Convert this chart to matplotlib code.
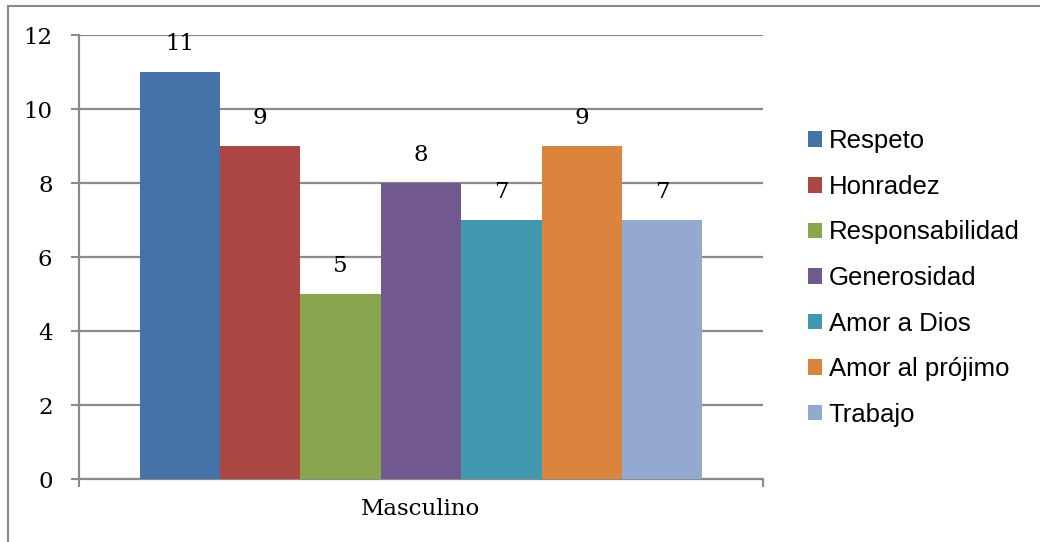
import numpy as np
import matplotlib
matplotlib.use("Agg")
import matplotlib.pyplot as plt
from matplotlib.lines import Line2D
from matplotlib.patches import Patch

# data ------------------------------------------------------------
categories = ["Respeto", "Honradez", "Responsabilidad", "Generosidad",
              "Amor a Dios", "Amor al prójimo", "Trabajo"]
values = [11, 9, 5, 8, 7, 9, 7]
colors = ["#4572A7", "#AA4643", "#89A54E", "#71588F",
          "#4198AF", "#DB843D", "#93A9CF"]
group_label = "Masculino"
y_ticks = [0, 2, 4, 6, 8, 10, 12]
# -----------------------------------------------------------------

W, H = 1040, 542
fig = plt.figure(figsize=(W / 100, H / 100), dpi=100)
ax = fig.add_axes([79 / W, 1 - 479 / H, (763 - 79) / W, (479 - 35) / H])

grey = "#8a8a8a"
serif = "DejaVu Serif"
fs = 16.5

x = np.arange(len(values))
ax.bar(x, values, width=1.0, color=colors, zorder=3)
for xi, v in zip(x, values):
    ax.text(xi, v + 0.45, str(v), ha="center", va="bottom",
            fontsize=fs, family=serif, zorder=4)

pad = 0.755
ax.set_xlim(-0.5 - pad, len(values) - 0.5 + pad)
ax.set_ylim(0, 12)

ax.set_yticks(y_ticks)
ax.set_yticklabels([str(t) for t in y_ticks], fontsize=fs, family=serif)
ax.yaxis.grid(True, color=grey, linewidth=1.6, zorder=0)
ax.tick_params(axis="y", length=6, width=1.5, color=grey, pad=13)

ax.set_xticks([-0.5 - pad, len(values) - 0.5 + pad])
ax.set_xticklabels(["", ""])
ax.tick_params(axis="x", which="major", length=6, width=1.5, color=grey)
ax.set_xticks([(len(values) - 1) / 2], minor=True)
ax.set_xticklabels([group_label], minor=True, fontsize=fs, family=serif)
ax.tick_params(axis="x", which="minor", length=0, pad=14)

for s in ["top", "right"]:
    ax.spines[s].set_visible(False)
for s in ["left", "bottom"]:
    ax.spines[s].set_color(grey)
    ax.spines[s].set_linewidth(1.6)

handles = [Patch(facecolor=c, edgecolor="none") for c in colors]
fig.legend(handles, categories, loc="upper left",
           bbox_to_anchor=(798 / W, 1 - 119 / H),
           frameon=False, prop={"family": "Liberation Sans", "size": 18.5},
           handlelength=0.55, handleheight=0.55, handletextpad=0.25,
           labelspacing=0.84, borderaxespad=0)

# outer chart border (left and top edges visible)
fig.add_artist(Line2D([8 / W, 8 / W], [0, 1 - 6 / H], color=grey, linewidth=1.5))
fig.add_artist(Line2D([8 / W, 1], [1 - 6 / H, 1 - 6 / H], color=grey, linewidth=1.5))

fig.savefig("out.png", dpi=100)
